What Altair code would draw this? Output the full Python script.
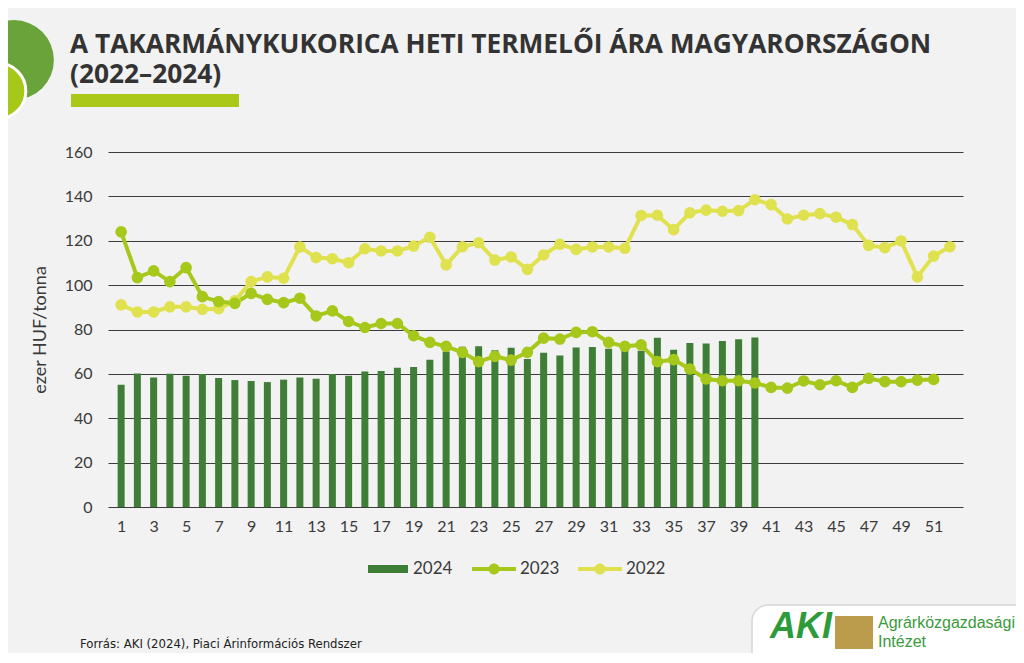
import altair as alt
import pandas as pd

# ---------------- data ----------------
weeks_2024 = list(range(1, 41))
price_2024 = [55.1, 60.2, 58.4, 60.1, 59.2, 59.9, 58.1, 57.2, 56.8, 56.3,
              57.4, 58.4, 57.8, 59.9, 59.2, 61.1, 61.3, 62.8, 63.1, 66.4,
              70.1, 72.2, 72.5, 70.7, 71.8, 66.7, 69.5, 68.3, 71.9, 72.1,
              71.3, 71.0, 70.4, 76.3, 70.9, 73.9, 73.7, 74.8, 75.6, 76.4]

weeks_2023 = list(range(1, 52))
price_2023 = [124.0, 103.4, 106.4, 101.6, 107.9, 94.8, 92.6, 91.8, 96.3, 93.6,
              92.1, 94.1, 86.1, 88.4, 83.6, 80.9, 82.7, 82.7, 77.2, 74.2,
              72.4, 69.7, 65.5, 67.9, 66.2, 69.7, 76.1, 75.7, 78.7, 79.0,
              74.2, 72.4, 73.1, 65.5, 66.4, 62.2, 57.7, 56.9, 56.9, 55.9,
              53.9, 53.6, 56.8, 55.1, 56.9, 53.9, 58.0, 56.5, 56.5, 57.2, 57.5]

weeks_2022 = list(range(1, 53))
price_2022 = [91.1, 87.9, 87.9, 90.2, 90.2, 89.1, 89.4, 92.9, 101.6, 103.7,
              103.1, 117.2, 112.4, 111.9, 110.1, 116.4, 115.4, 115.4, 117.6, 121.6,
              109.1, 117.3, 119.1, 111.3, 112.7, 107.1, 113.6, 118.4, 116.1, 117.2,
              117.2, 116.6, 131.4, 131.5, 125.0, 132.6, 133.8, 133.3, 133.6, 138.5,
              136.3, 129.8, 131.5, 132.2, 130.6, 127.3, 117.9, 116.9, 119.9, 103.7,
              113.1, 117.3]

bar_series = ["2024"]
line_series = ["2023", "2022"]
bar_color = ["#3f7e36"]
line_colors = ["#a6c81a", "#dfe24e"]

y_ticks = [0, 20, 40, 60, 80, 100, 120, 140, 160]
x_ticks = list(range(1, 52, 2))

title_lines = ["A TAKARMÁNYKUKORICA HETI TERMELŐI ÁRA MAGYARORSZÁGON", "(2022–2024)"]
y_title = "ezer HUF/tonna"
source_text = "Forrás: AKI (2024), Piaci Árinformációs Rendszer"
inst_lines = ["Agrárközgazdasági", "Intézet"]

bars_df = pd.DataFrame({"week": weeks_2024, "value": price_2024, "year": "2024"})
lines_df = pd.concat([
    pd.DataFrame({"week": weeks_2022, "value": price_2022, "year": "2022"}),
    pd.DataFrame({"week": weeks_2023, "value": price_2023, "year": "2023"}),
], ignore_index=True)

one = pd.DataFrame({"k": [0]})

# ---------------- scales & axes ----------------
W, H = 855, 355
FONT = "Lato"
TXT = "#3a3a3a"

xscale = alt.Scale(domain=[0.5, 52.5], nice=False, zero=False)
yscale = alt.Scale(domain=[0, 160], nice=False)

x_axis = alt.Axis(values=x_ticks, grid=False, domain=False, ticks=False,
                  labelPadding=11, labelFontSize=16, labelColor=TXT,
                  labelFont=FONT, title=None, labelFlush=False, format="d")
y_axis = alt.Axis(values=y_ticks, grid=True, gridColor="#3c3c3c", gridWidth=1.2,
                  domain=False, ticks=False, labelPadding=16, labelFontSize=16,
                  labelColor=TXT, labelFont=FONT, title=y_title,
                  titleFont=FONT, titleFontSize=18, titleFontWeight="normal",
                  titleColor=TXT, titlePadding=15)

X = alt.X("week:Q", scale=xscale, axis=x_axis)
Y = alt.Y("value:Q", scale=yscale, axis=y_axis)

bar_legend = alt.Legend(orient="none", legendX=260, legendY=397, title=None,
                        symbolType="M-1,-0.2H1V0.2H-1Z", symbolSize=1600,
                        symbolStrokeWidth=0, labelFont=FONT, labelFontSize=17,
                        labelColor=TXT, labelOffset=5, padding=0)
line_legend = alt.Legend(orient="none", legendX=364, legendY=395, title=None,
                         direction="horizontal", columnPadding=18,
                         symbolType="M-1,-0.09H1V0.09H-1Z M-0.25,0A0.25,0.25,0,1,1,0.25,0A0.25,0.25,0,1,1,-0.25,0Z",
                         symbolSize=1936, symbolStrokeWidth=0, symbolOpacity=1,
                         labelFont=FONT, labelFontSize=17, labelColor=TXT,
                         labelOffset=4, padding=0)

bars = alt.Chart(bars_df).mark_bar(size=7).encode(
    x=X, y=Y,
    color=alt.Color("year:N", scale=alt.Scale(domain=bar_series, range=bar_color),
                    legend=bar_legend),
)

lines = alt.Chart(lines_df).mark_line(strokeWidth=4).encode(
    x=X, y=Y,
    stroke=alt.Stroke("year:N", scale=alt.Scale(domain=line_series, range=line_colors),
                      legend=None),
    detail="year:N",
)

points = alt.Chart(lines_df).mark_circle(size=135, opacity=1).encode(
    x=X, y=Y,
    fill=alt.Fill("year:N", scale=alt.Scale(domain=line_series, range=line_colors),
                  legend=line_legend),
)

# ---------------- decorations & texts ----------------
circle_big = alt.Chart(one).mark_point(filled=True, shape="circle", size=6362,
                                      color="#6aa33a", opacity=1).encode(
    x=alt.value(-94), y=alt.value(-92))
circle_small = alt.Chart(one).mark_point(filled=True, shape="circle", size=3100,
                                        fill="#a6c81a", stroke="white", strokeWidth=3,
                                        opacity=1).encode(
    x=alt.value(-110), y=alt.value(-61))
title = alt.Chart(one).mark_text(text=title_lines, align="left", baseline="alphabetic",
                                 font="Open Sans", fontWeight="bold", fontSize=26.3,
                                 lineHeight=30, color="#333333").encode(
    x=alt.value(-38), y=alt.value(-99))
title_bar = alt.Chart(one).mark_rect(color="#a9c818").encode(
    x=alt.value(-37), x2=alt.value(131), y=alt.value(-58), y2=alt.value(-45))

source = alt.Chart(one).mark_text(text=source_text, align="left", baseline="middle",
                                  font="'Liberation Sans Narrow', 'DejaVu Sans Condensed', sans-serif",
                                  fontSize=13, color="#222").encode(
    x=alt.value(-28), y=alt.value(492))

panel = alt.Chart(one).mark_rect(color="white", cornerRadius=16, stroke="#d6d6d6",
                                 strokeWidth=1.5).encode(
    x=alt.value(644), x2=alt.value(940), y=alt.value(453), y2=alt.value(530))
aki = alt.Chart(one).mark_text(text="AKI", align="left", baseline="alphabetic",
                               font="Liberation Sans", fontWeight="bold", fontStyle="italic",
                               fontSize=36, color="#2e9b3a").encode(
    x=alt.value(662), y=alt.value(486))
emblem = alt.Chart(one).mark_rect(color="#bb9c4c").encode(
    x=alt.value(727), x2=alt.value(765), y=alt.value(464), y2=alt.value(497))
inst = alt.Chart(one).mark_text(text=inst_lines, align="left", baseline="alphabetic",
                                font="Liberation Sans", fontSize=16, lineHeight=19,
                                color="#3a9a3c").encode(
    x=alt.value(770), y=alt.value(476))

chart = alt.layer(
    bars, lines, points,
    circle_big, circle_small, title, title_bar, source,
    panel, aki, emblem, inst,
).resolve_scale(color="independent", fill="independent", stroke="independent").properties(
    width=W, height=H,
    autosize=alt.AutoSizeParams(type="none"),
    padding={"left": 100, "top": 144, "right": 53, "bottom": 146},
    background="#f2f2f2",
).configure_view(stroke=None)

chart.save("out.html", embed_options={"renderer": "svg", "actions": False})
